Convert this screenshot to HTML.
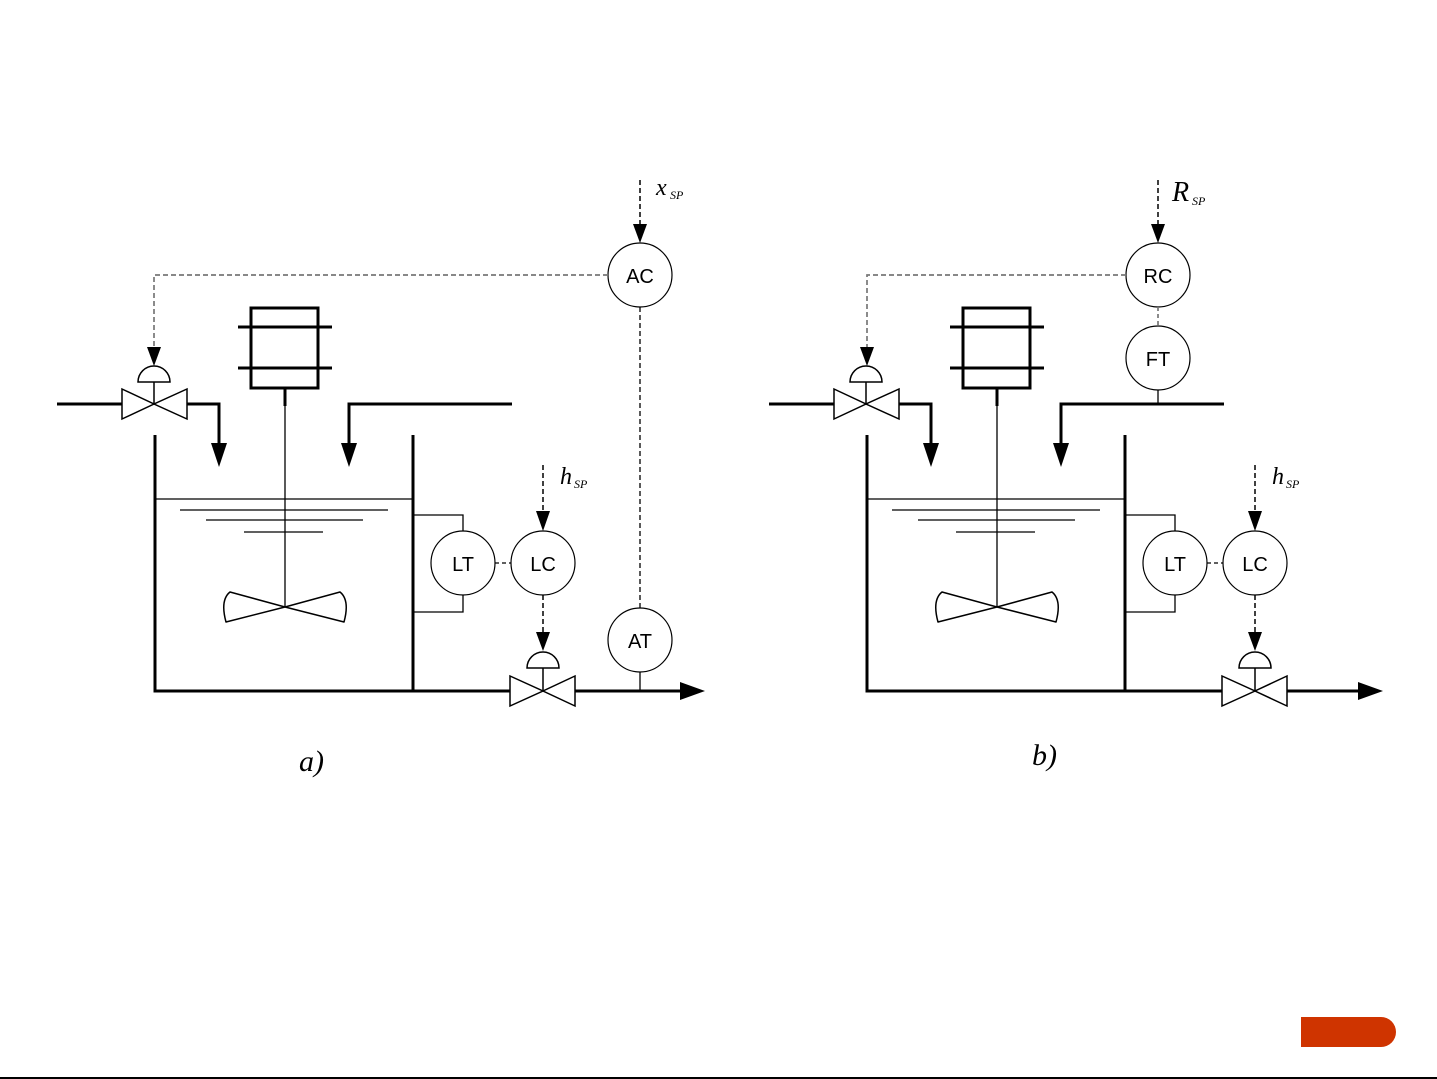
<!DOCTYPE html>
<html><head><meta charset="utf-8"><style>
html,body{margin:0;padding:0;background:#fff;}
svg{display:block;}
text{font-family:"Liberation Sans",sans-serif;}
.it{font-family:"Liberation Serif",serif;font-style:italic;}
</style></head><body>
<svg width="1437" height="1079" viewBox="0 0 1437 1079" xmlns="http://www.w3.org/2000/svg">
<defs>
<g id="common">
  <!-- inlet valve -->
  <line x1="57" y1="404" x2="122" y2="404" stroke="#000" stroke-width="3"/>
  <polygon points="122,389 122,419 154,404" fill="#fff" stroke="#000" stroke-width="1.5"/>
  <polygon points="187,389 187,419 154,404" fill="#fff" stroke="#000" stroke-width="1.5"/>
  <line x1="154" y1="404" x2="154" y2="382" stroke="#000" stroke-width="1.5"/>
  <path d="M138,382 A16,16 0 0 1 170,382 Z" fill="#fff" stroke="#000" stroke-width="1.5"/>
  <polyline points="187,404 219,404 219,445" fill="none" stroke="#000" stroke-width="3"/>
  <polygon points="211,443 227,443 219,467" fill="#000"/>
  <!-- second feed -->
  <polyline points="512,404 349,404 349,445" fill="none" stroke="#000" stroke-width="3"/>
  <polygon points="341,443 357,443 349,467" fill="#000"/>
  <!-- tank -->
  <polyline points="155,435 155,691 413,691 413,435" fill="none" stroke="#000" stroke-width="3"/>
  <line x1="155" y1="499" x2="413" y2="499" stroke="#000" stroke-width="1.3"/>
  <line x1="180" y1="510" x2="388" y2="510" stroke="#000" stroke-width="1.3"/>
  <line x1="206" y1="520" x2="363" y2="520" stroke="#000" stroke-width="1.3"/>
  <line x1="244" y1="532" x2="323" y2="532" stroke="#000" stroke-width="1.3"/>
  <!-- motor -->
  <rect x="251" y="308" width="67" height="80" fill="none" stroke="#000" stroke-width="3"/>
  <line x1="238" y1="327" x2="332" y2="327" stroke="#000" stroke-width="3"/>
  <line x1="238" y1="368" x2="332" y2="368" stroke="#000" stroke-width="3"/>
  <line x1="285" y1="388" x2="285" y2="406" stroke="#000" stroke-width="3"/>
  <line x1="285" y1="406" x2="285" y2="607" stroke="#000" stroke-width="1.3"/>
  <!-- impeller -->
  <path d="M285,607 L230,592 Q220,600 226,622 Z M285,607 L340,592 Q350,600 344,622 Z" fill="#fff" stroke="#000" stroke-width="1.5" stroke-linejoin="round"/>
  <!-- LT / LC -->
  <polyline points="413,515 463,515 463,531" fill="none" stroke="#000" stroke-width="1.3"/>
  <polyline points="413,612 463,612 463,595" fill="none" stroke="#000" stroke-width="1.3"/>
  <circle cx="463" cy="563" r="32" fill="#fff" stroke="#000" stroke-width="1.2"/>
  <circle cx="543" cy="563" r="32" fill="#fff" stroke="#000" stroke-width="1.2"/>
  <text x="463" y="571" font-size="20" text-anchor="middle">LT</text>
  <text x="543" y="571" font-size="20" text-anchor="middle">LC</text>
  <line x1="495" y1="563" x2="511" y2="563" stroke="#000" stroke-width="1.2" stroke-dasharray="4,3"/>
  <line x1="543" y1="465" x2="543" y2="513" stroke="#000" stroke-width="1.5" stroke-dasharray="5,3"/>
  <polygon points="536,511 550,511 543,531" fill="#000"/>
  <text class="it" x="560" y="484" font-size="24">h</text><text class="it" x="574" y="488" font-size="12">SP</text>
  <line x1="543" y1="595" x2="543" y2="634" stroke="#000" stroke-width="1.5" stroke-dasharray="5,3"/>
  <polygon points="536,632 550,632 543,651" fill="#000"/>
  <path d="M527,668 A16,16 0 0 1 559,668 Z" fill="#fff" stroke="#000" stroke-width="1.5"/>
  <line x1="543" y1="668" x2="543" y2="691" stroke="#000" stroke-width="1.5"/>
  <line x1="413" y1="691" x2="510" y2="691" stroke="#000" stroke-width="3"/>
  <polygon points="510,676 510,706 543,691" fill="#fff" stroke="#000" stroke-width="1.5"/>
  <polygon points="575,676 575,706 543,691" fill="#fff" stroke="#000" stroke-width="1.5"/>
</g>
</defs>

<!-- Panel a -->
<use href="#common"/>
<line x1="575" y1="691" x2="682" y2="691" stroke="#000" stroke-width="3"/>
<polygon points="680,682 680,700 705,691" fill="#000"/>
<circle cx="640" cy="640" r="32" fill="#fff" stroke="#000" stroke-width="1.2"/>
<text x="640" y="648" font-size="20" text-anchor="middle">AT</text>
<line x1="640" y1="672" x2="640" y2="691" stroke="#000" stroke-width="1.3"/>
<circle cx="640" cy="275" r="32" fill="#fff" stroke="#000" stroke-width="1.2"/>
<text x="640" y="283" font-size="20" text-anchor="middle">AC</text>
<line x1="640" y1="307" x2="640" y2="608" stroke="#000" stroke-width="1.3" stroke-dasharray="5,3"/>
<line x1="640" y1="180" x2="640" y2="226" stroke="#000" stroke-width="1.5" stroke-dasharray="5,3"/>
<polygon points="633,224 647,224 640,243" fill="#000"/>
<text class="it" x="656" y="195" font-size="24">x</text><text class="it" x="670" y="199" font-size="12">SP</text>
<polyline points="608,275 154,275 154,348" fill="none" stroke="#777" stroke-width="1.7" stroke-dasharray="5,3"/>
<polygon points="147,347 161,347 154,366" fill="#000"/>
<text class="it" x="299" y="771" font-size="30">a)</text>

<!-- Panel b -->
<use href="#common" transform="translate(712,0)"/>
<line x1="1287" y1="691" x2="1360" y2="691" stroke="#000" stroke-width="3"/>
<polygon points="1358,682 1358,700 1383,691" fill="#000"/>
<circle cx="1158" cy="275" r="32" fill="#fff" stroke="#000" stroke-width="1.2"/>
<text x="1158" y="283" font-size="20" text-anchor="middle">RC</text>
<circle cx="1158" cy="358" r="32" fill="#fff" stroke="#000" stroke-width="1.2"/>
<text x="1158" y="366" font-size="20" text-anchor="middle">FT</text>
<line x1="1158" y1="307" x2="1158" y2="326" stroke="#777" stroke-width="1.7" stroke-dasharray="4,3"/>
<line x1="1158" y1="390" x2="1158" y2="404" stroke="#000" stroke-width="1.3"/>
<line x1="1158" y1="180" x2="1158" y2="226" stroke="#000" stroke-width="1.5" stroke-dasharray="5,3"/>
<polygon points="1151,224 1165,224 1158,243" fill="#000"/>
<text class="it" x="1172" y="201" font-size="28">R</text><text class="it" x="1192" y="205" font-size="12">SP</text>
<polyline points="1126,275 867,275 867,348" fill="none" stroke="#777" stroke-width="1.7" stroke-dasharray="5,3"/>
<polygon points="860,347 874,347 867,366" fill="#000"/>
<text class="it" x="1032" y="765" font-size="30">b)</text>

<!-- decorations -->
<path d="M1301,1017 H1381 A15,15 0 0 1 1381,1047 H1301 Z" fill="#cf3400"/>
<line x1="0" y1="1078" x2="1437" y2="1078" stroke="#000" stroke-width="2"/>
</svg>
</body></html>
